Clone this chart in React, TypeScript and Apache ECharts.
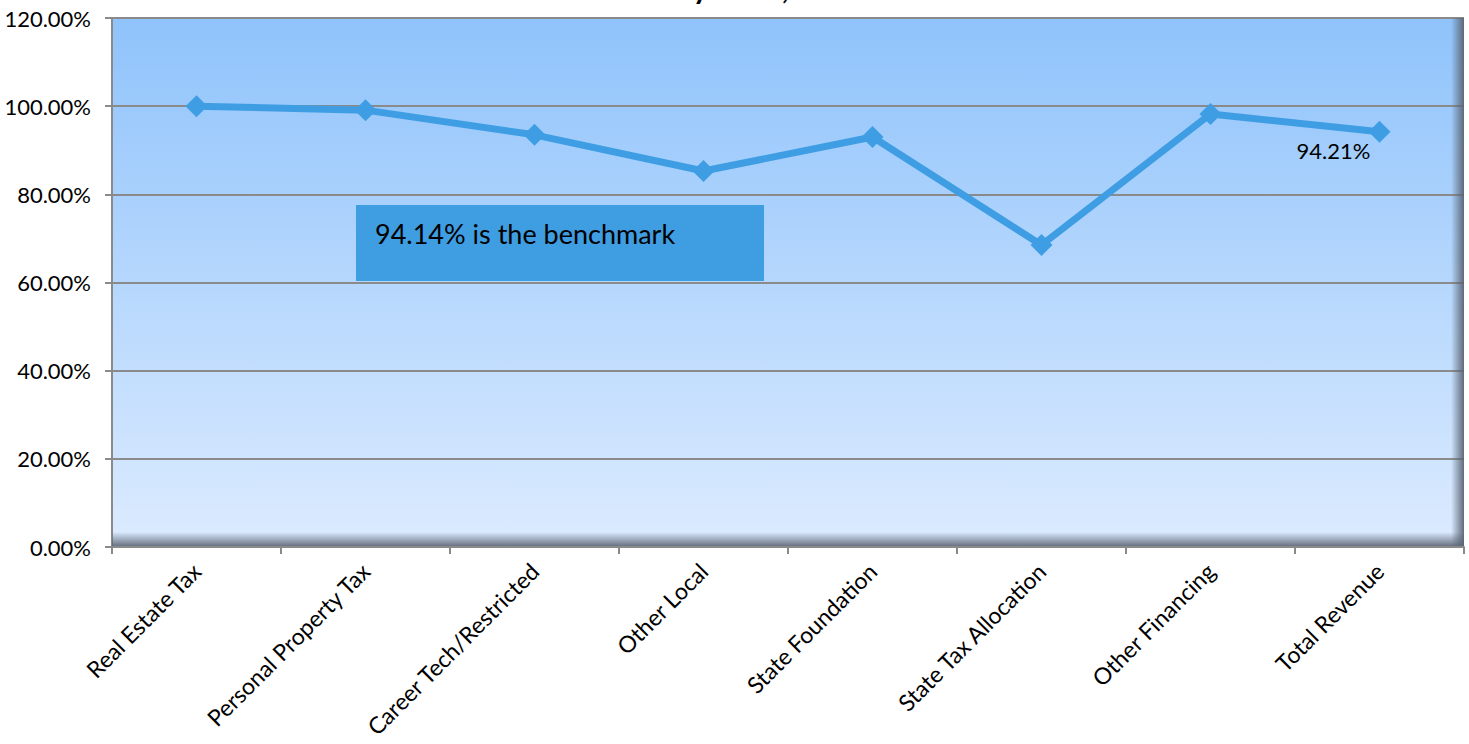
import React, { useEffect, useRef } from "react";
import * as echarts from "echarts";

const categories = [
  "Real Estate Tax",
  "Personal Property Tax",
  "Career Tech/Restricted",
  "Other Local",
  "State Foundation",
  "State Tax Allocation",
  "Other Financing",
  "Total Revenue",
];
const collectedPct = [100.0, 99.1, 93.5, 85.3, 93.0, 68.5, 98.2, 94.21];
const yTicks = { min: 0, max: 120, interval: 20 };
const benchmarkText = "94.14% is the benchmark";
const titleText = "Collections by Fund, FY 2013";

const FONT = "Lato, 'Open Sans', sans-serif";
const LINE_COLOR = "#3f9ee3";

export default function App() {
  const ref = useRef<HTMLDivElement>(null);
  useEffect(() => {
    document.body.style.margin = "0";
    const chart = echarts.init(ref.current!, null, { renderer: "svg" });
    const L = 112, T = 18, W = 1352, H = 529;
    const last = collectedPct.length - 1;
    chart.setOption({
      animation: false,
      backgroundColor: "#ffffff",
      grid: {
        left: L, top: T, width: W, height: H, show: true,
        borderWidth: 0,
        backgroundColor: new echarts.graphic.LinearGradient(0, 0, 0, 1, [
          { offset: 0, color: "#8fc3fb" },
          { offset: 1, color: "#dcebff" },
        ]),
      },
      xAxis: {
        type: "category",
        data: categories,
        boundaryGap: true,
        axisLine: { lineStyle: { color: "#8a8a8a", width: 2 } },
        axisTick: { show: true, length: 7, lineStyle: { color: "#8a8a8a", width: 2 } },
        axisLabel: { rotate: 45, color: "#000", fontFamily: FONT, fontSize: 23, margin: 20, interval: 0 },
        z: 5,
      },
      yAxis: {
        type: "value",
        min: yTicks.min, max: yTicks.max, interval: yTicks.interval,
        axisLine: { show: true, lineStyle: { color: "#8a8a8a", width: 2 } },
        axisTick: { show: true, length: 7, lineStyle: { color: "#8a8a8a", width: 2 } },
        splitLine: { lineStyle: { color: "#8a8a8a", width: 2 } },
        axisLabel: {
          color: "#000", fontFamily: FONT, fontSize: 22, margin: 21,
          formatter: (v: number) => v.toFixed(2) + "%",
        },
      },
      graphic: [
        {
          type: "rect", z: 1, silent: true,
          shape: { x: L + W - 13, y: T, width: 13, height: H },
          style: {
            fill: new echarts.graphic.LinearGradient(0, 0, 1, 0, [
              { offset: 0, color: "rgba(90,100,115,0)" },
              { offset: 1, color: "rgba(90,100,115,0.95)" },
            ]),
          },
        },
        {
          type: "rect", z: 1, silent: true,
          shape: { x: L, y: T + H - 15, width: W, height: 15 },
          style: {
            fill: new echarts.graphic.LinearGradient(0, 0, 0, 1, [
              { offset: 0, color: "rgba(90,100,115,0)" },
              { offset: 1, color: "rgba(90,100,115,0.95)" },
            ]),
          },
        },
        {
          type: "rect", z: 3,
          shape: { x: 356, y: 205, width: 408, height: 76 },
          style: { fill: "#3f9de2" },
        },
        {
          type: "text", z: 4, x: 375, y: 233,
          style: { text: benchmarkText, fill: "#000", font: `27px ${FONT}`, verticalAlign: "middle" },
        },
        {
          type: "text", z: 4, x: 520, y: 2,
          style: { text: titleText, fill: "#000", font: `bold 30px ${FONT}`, align: "left", verticalAlign: "bottom" },
        },
      ],
      series: [
        {
          type: "line",
          data: collectedPct.map((v, i) =>
            i === last
              ? {
                  value: v,
                  label: {
                    show: true, position: "bottom", offset: [-46, -8],
                    formatter: (p: any) => p.value.toFixed(2) + "%",
                    color: "#000", fontFamily: FONT, fontSize: 22,
                  },
                }
              : v
          ),
          symbol: "diamond",
          symbolSize: 22,
          lineStyle: { color: LINE_COLOR, width: 7 },
          itemStyle: { color: LINE_COLOR },
          z: 6,
        },
      ],
    });
    return () => chart.dispose();
  }, []);
  return <div ref={ref} style={{ width: 1469, height: 744 }} />;
}
